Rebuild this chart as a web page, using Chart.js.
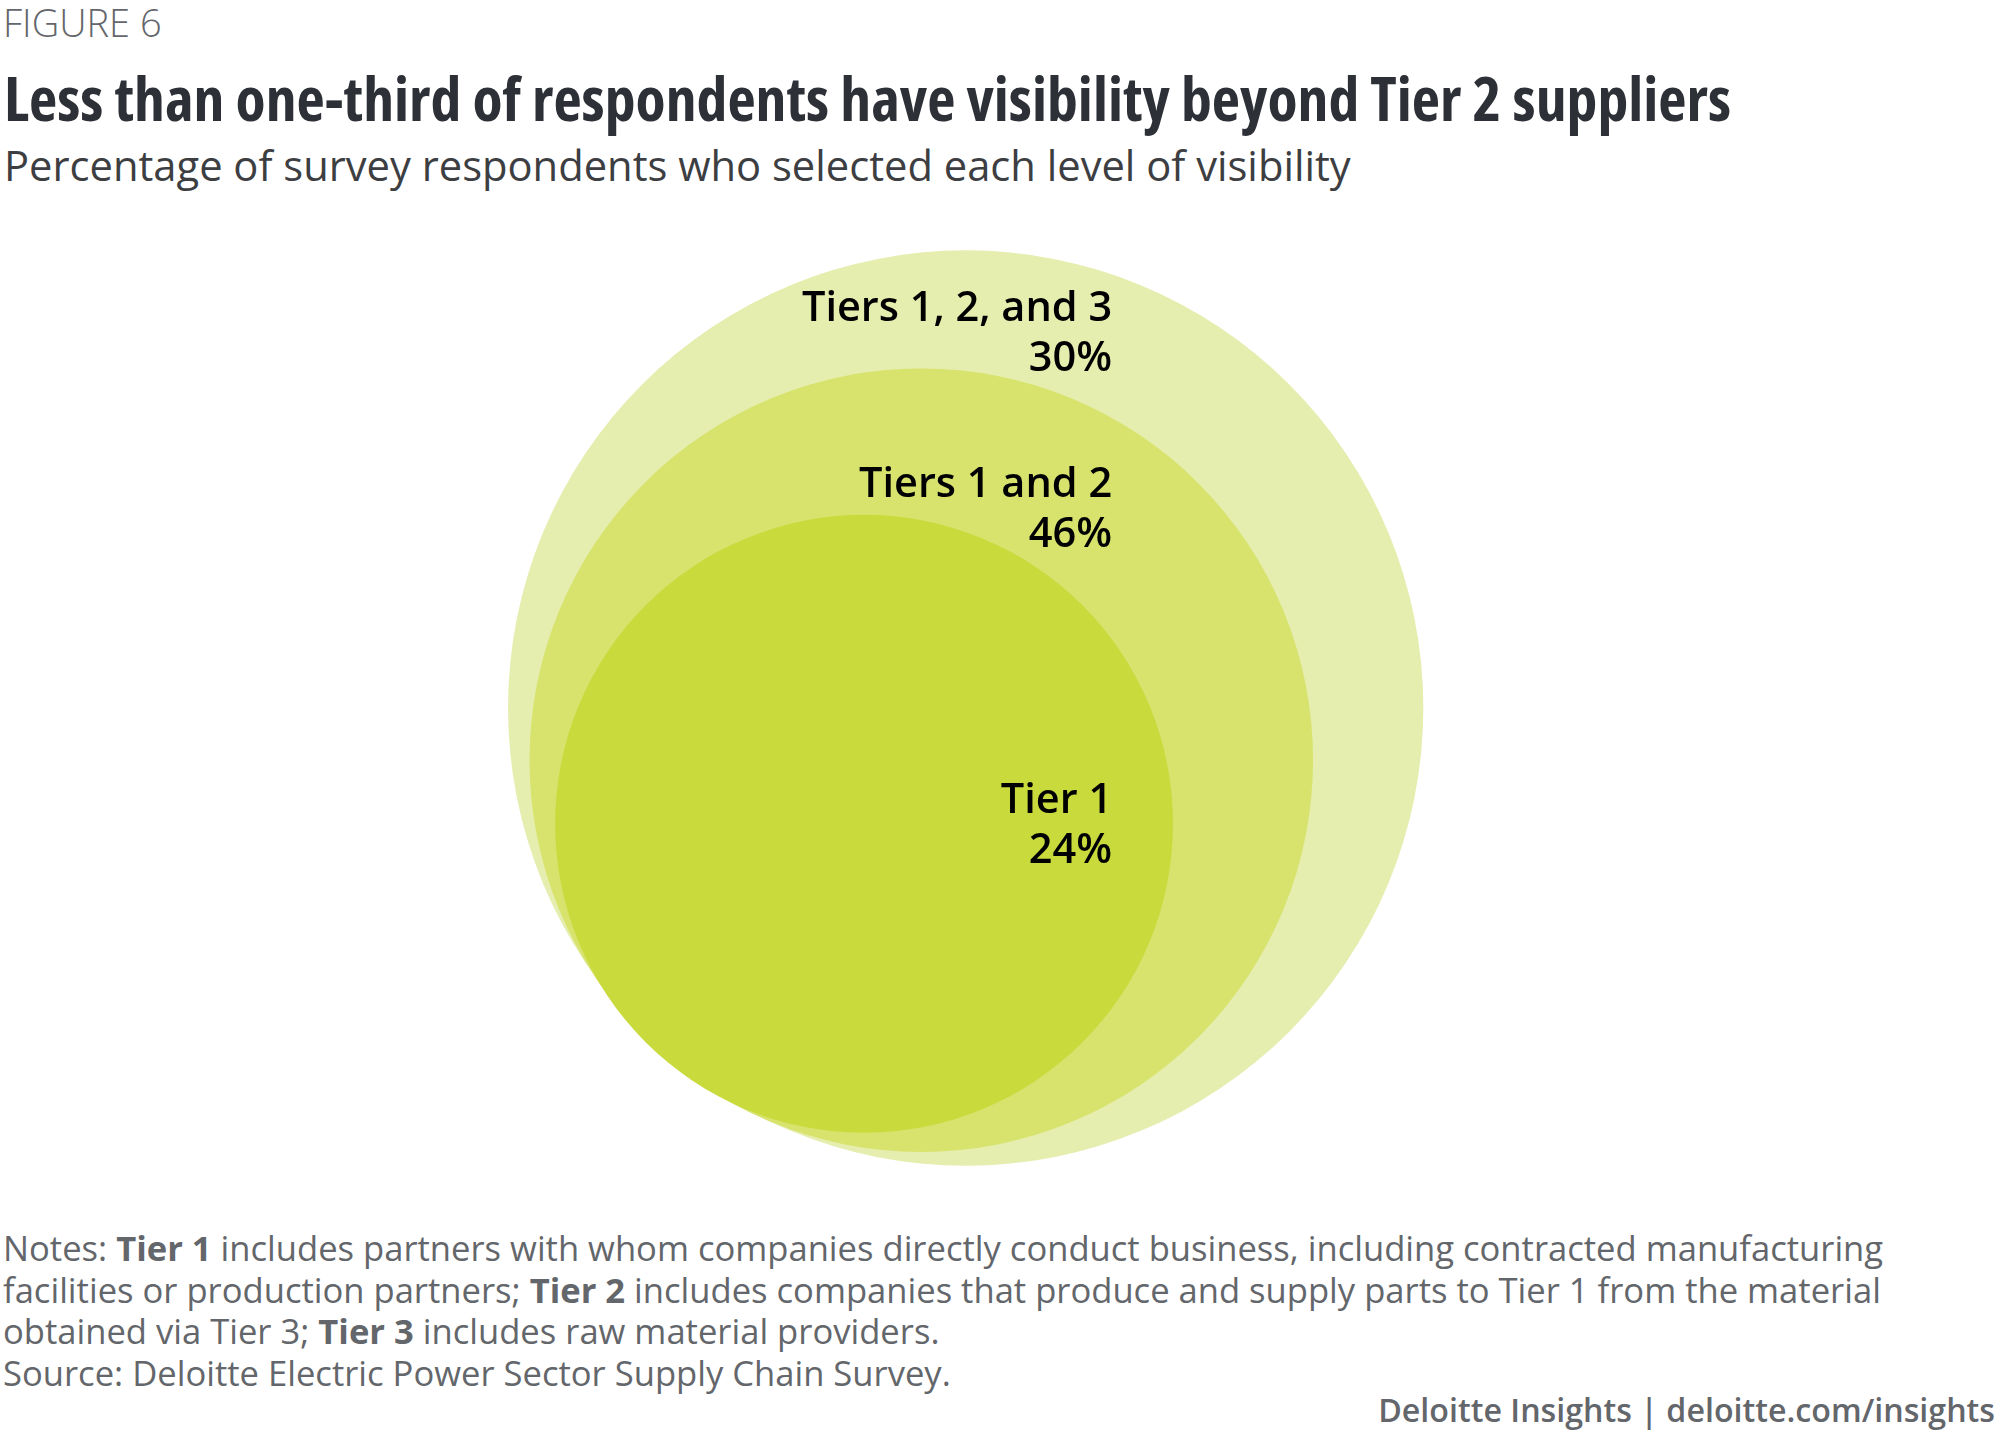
<!DOCTYPE html>
<html>
<head>
<meta charset="utf-8">
<script src="https://cdn.jsdelivr.net/npm/chart.js@4/dist/chart.umd.min.js"></script>
<style>
    html, body {
        margin: 0;
        padding: 0;
        background: #fff;
    }
    body {
        position: relative;
        width: 2000px;
        height: 1449px;
        overflow: hidden;
        font-family: "Open Sans", "Noto Sans", sans-serif;
    }
    .txt {
        position: absolute;
        white-space: nowrap;
        line-height: 1;
    }
    #figNum {
        left: 3px;
        top: 3px;
        font-size: 38px;
        font-weight: 300;
        color: #63666a;
    }
    #title {
        left: 4px;
        top: 68px;
        font-size: 60px;
        font-weight: 700;
        color: #2e3037;
        transform-origin: 0 0;
        font-stretch: condensed;
    }
    #subtitle {
        left: 4px;
        top: 144px;
        font-size: 41.7px;
        font-weight: 400;
        color: #3d3e42;
    }
    #chartBox {
        position: absolute;
        left: 0;
        top: 200px;
        width: 2000px;
        height: 1000px;
    }
    #notes {
        position: absolute;
        left: 3px;
        top: 1227px;
        font-size: 34.6px;
        line-height: 41.5px;
        color: #63666a;
        white-space: nowrap;
    }
    #notes b {
        font-weight: 700;
    }
    #credit {
        right: 5px;
        top: 1394px;
        font-size: 32.2px;
        font-weight: 600;
        color: #63666a;
    }
</style>
</head>
<body>

<div class="txt" id="figNum">FIGURE 6</div>
<div class="txt" id="title">Less than one-third of respondents have visibility beyond Tier 2 suppliers</div>
<div class="txt" id="subtitle">Percentage of survey respondents who selected each level of visibility</div>

<div id="chartBox">
    <canvas id="tierChart" width="2000" height="1000"></canvas>
</div>

<div id="notes">
    Notes: <b>Tier 1</b> includes partners with whom companies directly conduct business, including contracted manufacturing<br>
    facilities or production partners; <b>Tier 2</b> includes companies that produce and supply parts to Tier 1 from the material<br>
    obtained via Tier 3; <b>Tier 3</b> includes raw material providers.<br>
    Source: Deloitte Electric Power Sector Supply Chain Survey.
</div>

<div class="txt" id="credit">Deloitte Insights | deloitte.com/insights</div>

<script>
/* ============================================================
   DATA (outer circle first, so the inner one is drawn on top)
   ============================================================ */
const tierLabels = ["Tiers 1, 2, and 3", "Tiers 1 and 2", "Tier 1"];
const tierShares = [30, 46, 24];

// circle geometry, in chart units (outer circle radius = 100)
const circleX = [0, -9.7, -22.2];
const circleY = [0, -11.4, -25.3];
const circleR = [100, 85.6, 67.5];

// where each label's right edge / first baseline sits (chart units)
const labelX = [32.0, 32.0, 32.0];
const labelY = [84.5, 46.1, -22.9];

const circleColors = ["#e5eeae", "#d8e36d", "#c8da3c"];

/* ============================================================
   LABEL PLUGIN - two lines, right aligned, inside each circle
   ============================================================ */
const tierLabelPlugin = {
    id: "tierLabels",
    afterDatasetsDraw(chart) {
        const ctx = chart.ctx;
        const xs = chart.scales.x;
        const ys = chart.scales.y;

        ctx.save();
        ctx.fillStyle = "#000";
        ctx.textAlign = "right";
        ctx.textBaseline = "alphabetic";
        ctx.font = "600 41.5px 'Open Sans'";

        tierLabels.forEach((name, i) => {
            const px = xs.getPixelForValue(labelX[i]);
            const py = ys.getPixelForValue(labelY[i]);
            ctx.fillText(name, px, py);
            ctx.fillText(tierShares[i] + "%", px, py + 50);
        });
        ctx.restore();
    }
};

/* ============================================================
   CHART
   radius is given in chart units, turned into pixels by the x scale
   (scatter instead of bubble: bubble resolves radius before layout)
   ============================================================ */
function radiusFor(context) {
    const i = context.dataIndex;
    if (i === undefined) return 0;
    const xs = context.chart.scales.x;
    if (!xs || !isFinite(xs.width) || xs.width === 0) return 0;
    return Math.abs(xs.getPixelForValue(circleR[i]) - xs.getPixelForValue(0));
}

const tierChart = new Chart(document.getElementById("tierChart"), {
    type: "scatter",
    data: {
        labels: tierLabels,
        datasets: [{
            label: "Visibility",
            data: circleX.map((x, i) => ({ x: x, y: circleY[i] })),
            showLine: false,
            pointRadius: radiusFor,
            pointHoverRadius: radiusFor,
            pointBackgroundColor: circleColors,
            pointHoverBackgroundColor: circleColors,
            pointBorderWidth: 0,
            pointHoverBorderWidth: 0,
            clip: false
        }]
    },
    options: {
        responsive: false,
        maintainAspectRatio: false,
        devicePixelRatio: 1,
        animation: false,
        events: [],
        // no auto padding, otherwise the big points shrink the chart area
        layout: { autoPadding: false, padding: 0 },
        scales: {
            x: { type: "linear", display: false, min: -211, max: 226 },
            y: { type: "linear", display: false, min: -107.5, max: 111 }
        },
        plugins: {
            legend: { display: false },
            tooltip: { enabled: false }
        }
    },
    plugins: [tierLabelPlugin]
});

/* ============================================================
   squeeze the title to the condensed width of the original
   ============================================================ */
function fitTitle() {
    const title = document.getElementById("title");
    title.style.transform = "none";
    const w = title.getBoundingClientRect().width;
    if (w > 0) title.style.transform = "scaleX(" + (1727 / w) + ")";
}
fitTitle();
if (document.fonts) document.fonts.ready.then(() => { fitTitle(); tierChart.update(); });
</script>
</body>
</html>
